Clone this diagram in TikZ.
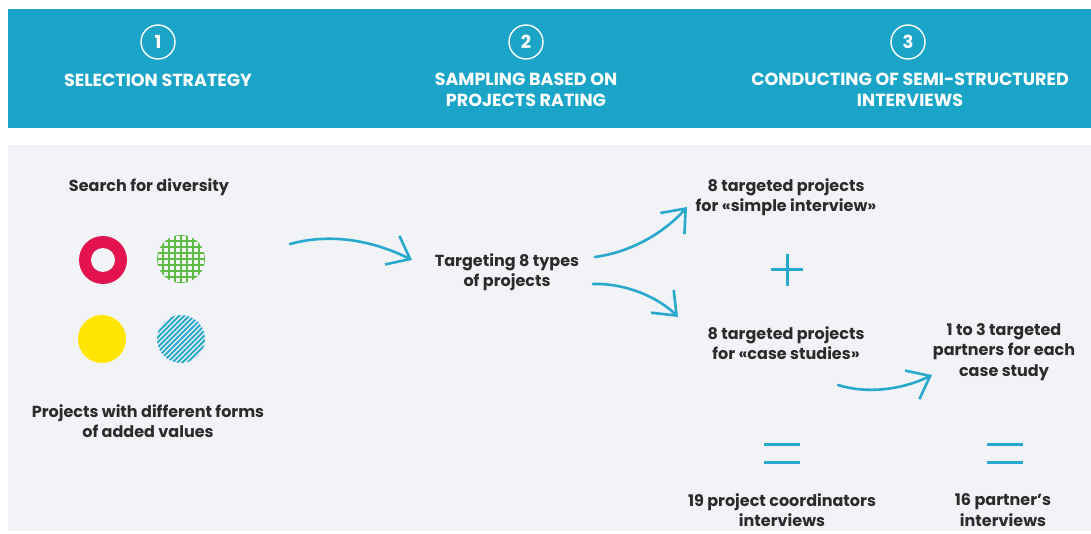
\documentclass[tikz,border=0pt]{standalone}
\usepackage{fontspec}
\setmainfont{Poppins}
\usetikzlibrary{arrows.meta,calc}
\definecolor{hdr}{HTML}{1AA5C8}
\definecolor{bg}{HTML}{F1F3F6}
\definecolor{txt}{HTML}{2C2A2B}
\definecolor{arr}{HTML}{29A8CE}
\definecolor{ring}{HTML}{E2134F}
\definecolor{grn}{HTML}{5DBB46}
\definecolor{yel}{HTML}{FFE500}
\tikzset{
  body/.style={text=txt, font=\bfseries\fontsize{16}{20.5}\selectfont, align=center, inner sep=0pt},
  head/.style={text=white, font=\bfseries\fontsize{17.5}{20.5}\selectfont, align=center, inner sep=0pt},
  num/.style={circle, draw=white, line width=1.4pt, minimum size=34pt, inner sep=0pt, text=white, font=\bfseries\fontsize{18}{18}\selectfont},
  flow/.style={draw=arr, line width=2.6pt, line cap=round, -{Straight Barb[length=20pt,width=32pt,line width=2.6pt]}},
  sign/.style={draw=arr, line width=3pt}
}
\begin{document}
\begin{tikzpicture}[x=1pt,y=-1pt]
\useasboundingbox (0,0) rectangle (1091,534);
\fill[white] (0,0) rectangle (1091,534);
\fill[hdr] (8,9) rectangle (1091,128);
\fill[bg] (8,145) rectangle (1091,531);
% header
\node[num] (n1) at (158,42) {1};
\node[num] (n2) at (526,42) {2};
\node[num] (n3) at (908,42) {3};
\node[head] (h1) at (158,80) {SELECTION STRATEGY};
\node[head] (h2) at (526,90) {SAMPLING BASED ON\\PROJECTS RATING};
\node[head] (h3) at (910,90) {CONDUCTING OF SEMI-STRUCTURED\\INTERVIEWS};
% column 1
\node[body] (search) at (149,187) {Search for diversity};
\fill[ring] (103,260) circle (24);
\fill[bg] (103,260) circle (12);
\begin{scope}
  \clip (181,259) circle (24);
  \foreach \i in {-24,-18,...,24} {
    \draw[grn, line width=1.8pt] (181+\i,235) -- (181+\i,283);
    \draw[grn, line width=1.8pt] (157,259+\i) -- (205,259+\i);
  }
\end{scope}
\fill[yel] (102,339) circle (24);
\begin{scope}
  \clip (181,339) circle (24);
  \foreach \i in {-50,-45,...,50} {
    \draw[arr, line width=2pt] (181+\i-30,369) -- (181+\i+30,309);
  }
\end{scope}
\node[body] (forms) at (148,421) {Projects with different forms\\of added values};
% column 2
\node[body] (target) at (507,272) {Targeting 8 types\\of projects};
\coordinate (a1s) at (290,244);
\coordinate (a1e) at (412,260);
\draw[flow] (a1s) .. controls (330,233) and (372,240) .. (a1e);
% column 3
\node[body] (simple) at (786,197) {8 targeted projects\\for «simple interview»};
\node[body] (cases) at (786,343) {8 targeted projects\\for «case studies»};
\node[body] (partners) at (1004,352) {1 to 3 targeted\\partners for each\\case study};
\coordinate (a2s) at (595,257);
\coordinate (a2e) at (687,207);
\draw[flow] (a2s) .. controls (632,252) and (665,232) .. (a2e);
\coordinate (a3s) at (593,284);
\coordinate (a3e) at (678,317);
\draw[flow] (a3s) .. controls (625,283) and (658,297) .. (a3e);
\coordinate (a4s) at (838,385);
\coordinate (a4e) at (932,375);
\draw[flow] (a4s) .. controls (866,394) and (902,390) .. (a4e);
% plus
\coordinate (plus) at (787,270);
\draw[sign] ($(plus)+(-16,0)$) -- ($(plus)+(16,0)$);
\draw[sign] ($(plus)+(0,-16)$) -- ($(plus)+(0,16)$);
% equals
\draw[sign] (764,444) -- (800,444);
\draw[sign] (764,462) -- (800,462);
\draw[sign] (987,444) -- (1023,444);
\draw[sign] (987,462) -- (1023,462);
\node[body] (coord) at (782,510) {19 project coordinators\\interviews};
\node[body] (pint) at (1003,510) {16 partner's\\interviews};
\end{tikzpicture}
\end{document}
